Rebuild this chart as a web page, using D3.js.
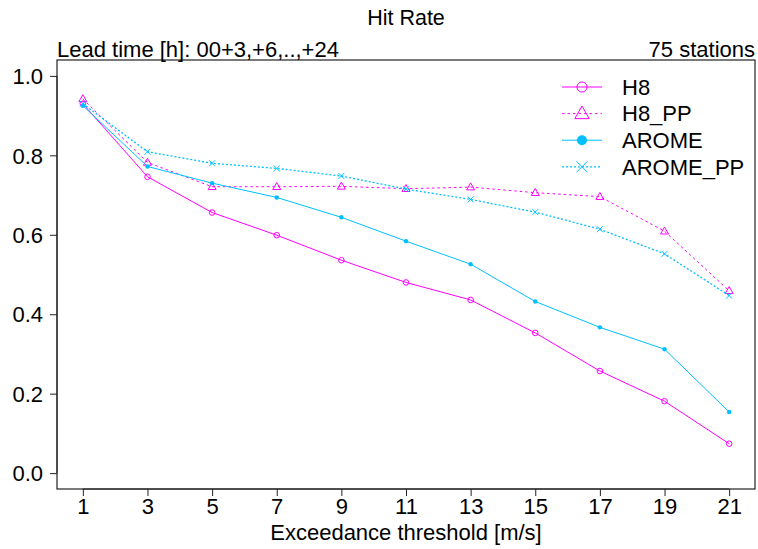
<!DOCTYPE html>
<html>
<head>
<meta charset="utf-8">
<script src="https://cdn.jsdelivr.net/npm/d3@7"></script>
<style>
body { margin: 0; background: #fff; }
text { font-family: "Liberation Sans", Arial, sans-serif; fill: #000; }
</style>
</head>
<body>
<svg id="chart" width="758" height="549"></svg>
<script>
const thresholds = [1, 3, 5, 7, 9, 11, 13, 15, 17, 19, 21];
const h8      = [0.930, 0.746, 0.656, 0.599, 0.536, 0.480, 0.436, 0.353, 0.257, 0.181, 0.074];
const h8PP    = [0.942, 0.782, 0.721, 0.721, 0.722, 0.716, 0.720, 0.706, 0.696, 0.609, 0.459];
const arome   = [0.925, 0.772, 0.730, 0.694, 0.644, 0.584, 0.526, 0.432, 0.367, 0.312, 0.154];
const aromePP = [0.930, 0.809, 0.780, 0.767, 0.748, 0.715, 0.689, 0.657, 0.614, 0.552, 0.447];
const yTicks = [0.0, 0.2, 0.4, 0.6, 0.8, 1.0];
const seriesNames = ["H8", "H8_PP", "AROME", "AROME_PP"];

const magenta = "#ff00ff", cyan = "#00bfff";
const series = [
  {name: seriesNames[0], values: h8,      color: magenta, dash: null,    sw: 1,   sym: "circle"},
  {name: seriesNames[1], values: h8PP,    color: magenta, dash: "2.5,3", sw: 1,   sym: "triangle"},
  {name: seriesNames[2], values: arome,   color: cyan,    dash: null,    sw: 1,   sym: "dot"},
  {name: seriesNames[3], values: aromePP, color: cyan,    dash: "2,2",   sw: 1.3, sym: "cross"}
];

const svg = d3.select("#chart");
const L = 57, R = 755, T = 60, B = 489;
const x = d3.scaleLinear().domain([0.2, 21.8]).range([L, R]);
const y = d3.scaleLinear().domain([-0.04, 1.04]).range([B, T]);

function drawSym(g, type, cx, cy, s, color, legend) {
  if (type === "circle") {
    g.append("circle").attr("cx", cx).attr("cy", cy).attr("r", 2.8 * s)
      .attr("fill", "none").attr("stroke", color).attr("stroke-width", 1);
  } else if (type === "dot") {
    g.append("circle").attr("cx", cx).attr("cy", cy).attr("r", (legend ? 2.8 : 2.2) * s)
      .attr("fill", color).attr("stroke", "none");
  } else if (type === "triangle") {
    const a = 4 * s;
    g.append("path")
      .attr("d", `M${cx},${cy - a * 1.05}L${cx + a},${cy + a * 0.7}L${cx - a},${cy + a * 0.7}Z`)
      .attr("fill", "none").attr("stroke", color).attr("stroke-width", 1);
  } else if (type === "cross") {
    const a = 3 * s;
    g.append("path")
      .attr("d", `M${cx - a},${cy - a}L${cx + a},${cy + a}M${cx - a},${cy + a}L${cx + a},${cy - a}`)
      .attr("fill", "none").attr("stroke", color).attr("stroke-width", 1);
  }
}

// box
svg.append("rect").attr("x", L).attr("y", T).attr("width", R - L).attr("height", B - T)
  .attr("fill", "none").attr("stroke", "#222").attr("stroke-width", 1.2);

// y axis
const yAxis = d3.axisLeft(y).tickValues(yTicks).tickFormat(d3.format(".1f")).tickSize(7).tickPadding(7);
const gy = svg.append("g").attr("transform", `translate(${L},0)`).call(yAxis);
gy.select(".domain").attr("d", `M-0,${y(0)}V${y(1)}`).attr("stroke", "#222");
gy.selectAll(".tick line").attr("stroke", "#222");
gy.selectAll(".tick text").style("font-size", "22px").attr("font-family", null).attr("dy", "0.35em");

// x axis
const xAxis = d3.axisBottom(x).tickValues(thresholds).tickFormat(d3.format("d")).tickSize(7).tickPadding(2);
const gx = svg.append("g").attr("transform", `translate(0,${B})`).call(xAxis);
gx.select(".domain").attr("d", `M${x(1)},0H${x(21)}`).attr("stroke", "#222");
gx.selectAll(".tick line").attr("stroke", "#222");
gx.selectAll(".tick text").style("font-size", "22px").attr("font-family", null);

// lines and points
const line = d3.line().x((d, i) => x(thresholds[i])).y(d => y(d));
series.forEach(s => {
  svg.append("path").datum(s.values).attr("d", line)
    .attr("fill", "none").attr("stroke", s.color).attr("stroke-width", s.sw)
    .attr("stroke-dasharray", s.dash);
  const g = svg.append("g");
  s.values.forEach((v, i) => drawSym(g, s.sym, x(thresholds[i]), y(v), 1, s.color, false));
});

// legend
const lg = svg.append("g");
series.forEach((s, i) => {
  const ly = 87 + i * 26.6;
  lg.append("line").attr("x1", 562).attr("x2", 602).attr("y1", ly).attr("y2", ly)
    .attr("stroke", s.color).attr("stroke-width", s.sw).attr("stroke-dasharray", s.dash);
  drawSym(lg, s.sym, 582, ly, 1.8, s.color, true);
  lg.append("text").attr("x", 622).attr("y", ly).attr("dy", "0.35em")
    .style("font-size", "22px").text(s.name);
});

// titles
svg.append("text").attr("x", (L + R) / 2).attr("y", 25).attr("text-anchor", "middle")
  .style("font-size", "21.5px").text("Hit Rate");
svg.append("text").attr("x", L).attr("y", 57).style("font-size", "22px")
  .text("Lead time [h]: 00+3,+6,..,+24");
svg.append("text").attr("x", R).attr("y", 57).attr("text-anchor", "end").style("font-size", "22px")
  .text("75 stations");
svg.append("text").attr("x", (L + R) / 2).attr("y", 540).attr("text-anchor", "middle")
  .style("font-size", "22px").text("Exceedance threshold [m/s]");
</script>
</body>
</html>
